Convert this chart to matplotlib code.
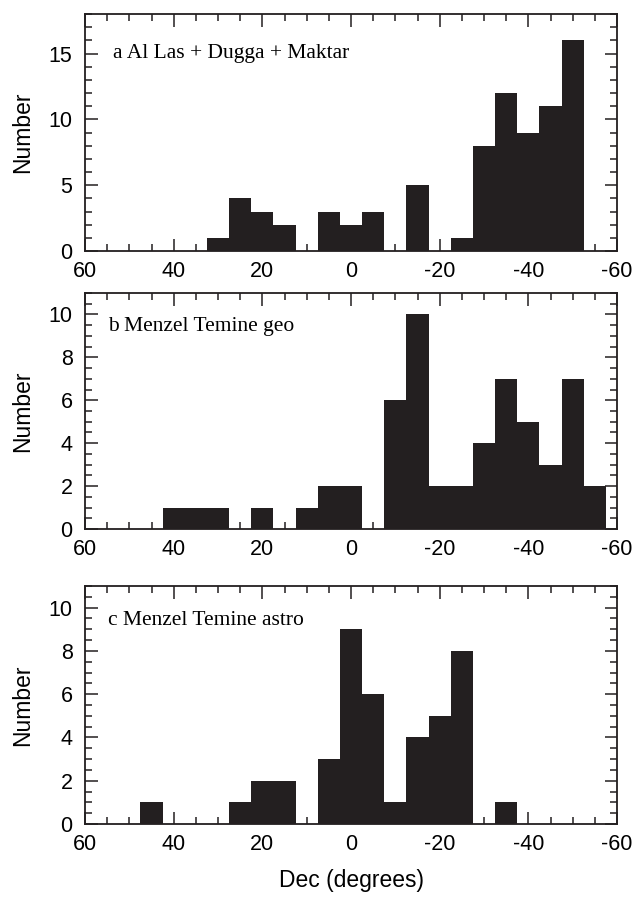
import matplotlib
matplotlib.use("Agg")
import matplotlib.pyplot as plt
from matplotlib.ticker import MultipleLocator

plt.rcParams['axes.unicode_minus'] = False
plt.rcParams['font.family'] = ['Liberation Sans', 'DejaVu Sans']

# Bin centres (degrees of declination), 5-degree bins
dec_centers = [55, 50, 45, 40, 35, 30, 25, 20, 15, 10, 5, 0,
               -5, -10, -15, -20, -25, -30, -35, -40, -45, -50, -55]

counts_a = [0, 0, 0, 0, 0, 1, 4, 3, 2, 0, 3, 2,
            3, 0, 5, 0, 1, 8, 12, 9, 11, 16, 0]
counts_b = [0, 0, 0, 1, 1, 1, 0, 1, 0, 1, 2, 2,
            0, 6, 10, 2, 2, 4, 7, 5, 3, 7, 2]
counts_c = [0, 0, 1, 0, 0, 0, 1, 2, 2, 0, 3, 9,
            6, 1, 4, 5, 8, 0, 1, 0, 0, 0, 0]

titles = ["a Al Las + Dugga + Maktar",
          "b Menzel Temine geo",
          "c Menzel Temine astro"]
xticks = [60, 40, 20, 0, -20, -40, -60]
xticklabels = ["60", "40", "20", "0", "-20", "-40", "-60"]

W, H = 632, 901
fig = plt.figure(figsize=(W / 100, H / 100), dpi=100)

left = 85 / W
width = (617 - 85) / W
panels = [
    # (top_px, bottom_px, counts, ymax, major, minor, title_y)
    (14, 251, counts_a, 18, 5, 1, 0.835),
    (293, 529, counts_b, 11, 2, 0.5, 0.856),
    (586, 824, counts_c, 11, 2, 0.5, 0.857),
]

bar_color = '#231f20'
for i, (top, bot, counts, ymax, major, minor, ty) in enumerate(panels):
    ax = fig.add_axes([left, 1 - bot / H, width, (bot - top) / H])
    ax.bar(dec_centers, counts, width=5, color=bar_color, linewidth=0)
    ax.set_xlim(60, -60)
    ax.set_ylim(0, ymax)
    ax.set_xticks(xticks)
    ax.set_xticklabels(xticklabels)
    ax.xaxis.set_minor_locator(MultipleLocator(5))
    ax.yaxis.set_major_locator(MultipleLocator(major))
    ax.yaxis.set_minor_locator(MultipleLocator(minor))
    ax.tick_params(which='both', direction='in', top=True, right=True,
                   labelsize=15.5, width=1.1, color='#231f20')
    ax.tick_params(which='major', length=9)
    ax.tick_params(which='minor', length=5)
    ax.tick_params(axis='x', which='major', pad=7)
    ax.tick_params(axis='y', which='major', pad=9)
    for s in ax.spines.values():
        s.set_linewidth(1.3)
        s.set_color('#231f20')
    ax.set_ylabel("Number", fontsize=16.5, labelpad=10)
    ax.text(0.052 if i == 0 else 0.043, ty, titles[i], transform=ax.transAxes,
            fontsize=15.5, family=['Liberation Serif', 'DejaVu Serif'],
            va='center', ha='left')
    if i == 2:
        ax.set_xlabel("Dec (degrees)", fontsize=16.5, labelpad=10)

fig.savefig("out.png", dpi=100)
